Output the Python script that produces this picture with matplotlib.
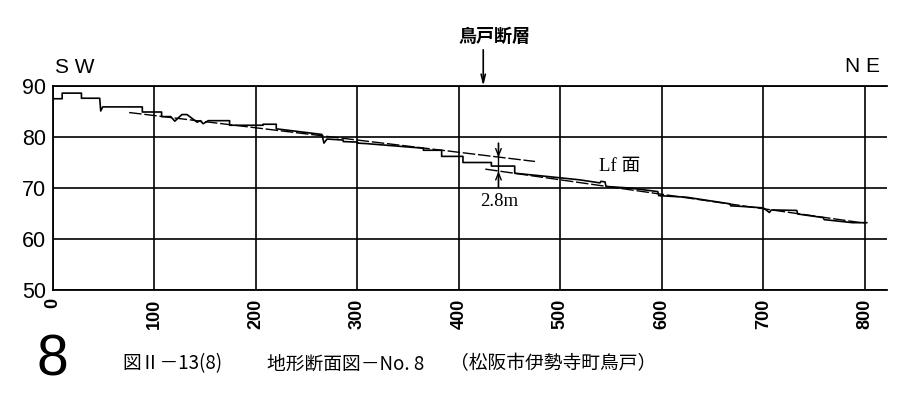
import matplotlib.pyplot as plt

plt.switch_backend('Agg')
plt.rcParams['font.family'] = ['Liberation Sans', 'Noto Sans CJK JP']

# ground profile (distance m, elevation m)
dist = [0, 9, 9, 28, 28, 46, 47, 49, 88, 88, 107, 107, 116, 120, 127, 132, 142,
        145, 148, 153, 174, 174, 207, 207, 220, 220, 265, 267, 270, 286, 286,
        300, 300, 309, 365, 365, 383, 383, 404, 404, 432, 432, 455, 455, 490,
        519, 539, 540, 544, 545, 568, 596, 597, 624, 667, 668, 678, 700, 706,
        708, 733, 734, 759, 760, 788, 802]
elev = [87.5, 87.5, 88.6, 88.6, 87.6, 87.6, 85.1, 85.9, 85.9, 84.9, 84.9, 84.0,
        84.0, 83.1, 84.4, 84.4, 82.9, 83.2, 82.6, 83.2, 83.2, 82.3, 82.3, 82.5,
        82.5, 81.6, 80.5, 78.8, 79.6, 79.4, 79.1, 79.0, 78.8, 78.7, 77.8, 77.4,
        77.4, 76.2, 76.2, 75.0, 75.0, 74.3, 74.3, 72.9, 72.2, 71.6, 71.0, 71.3,
        71.2, 70.3, 70.0, 69.3, 68.5, 68.2, 66.9, 66.5, 66.4, 66.1, 65.2, 65.7,
        65.6, 64.9, 64.2, 63.8, 63.2, 63.2]

# Lf surface trend lines (dashed), upper and lower side of the fault
upper_x = [75, 475]
upper_y = [84.8, 75.2]
lower_x = [426, 800]
lower_y = [73.7, 63.1]

fault_x = 424
offset_x = 439
x_ticks = [0, 100, 200, 300, 400, 500, 600, 700, 800]
y_ticks = [50, 60, 70, 80, 90]

fig = plt.figure(figsize=(9.05, 3.97), dpi=100)
ax = fig.add_axes([0.0586, 0.2695, 0.9216, 0.5139])
ax.set_xlim(0, 822)
ax.set_ylim(50, 90)

ax.set_xticks(x_ticks)
ax.set_yticks(y_ticks)
ax.set_xticklabels([str(t) for t in x_ticks], rotation=90, fontsize=13, fontweight='bold')
ax.set_yticklabels([str(t) for t in y_ticks], fontsize=15.5)
ax.tick_params(axis='both', length=0)
ax.tick_params(axis='x', pad=6)
ax.tick_params(axis='y', pad=5)
ax.grid(True, color='black', linewidth=1.2)
ax.set_axisbelow(True)
ax.spines['right'].set_visible(False)
for s in ['left', 'top', 'bottom']:
    ax.spines[s].set_linewidth(1.3)

ax.plot(dist, elev, color='black', linewidth=1.2)
ax.plot(upper_x, upper_y, color='black', linewidth=1.0, linestyle=(0, (9, 2)))
ax.plot(lower_x, lower_y, color='black', linewidth=1.0, linestyle=(0, (9, 2)))

# 2.8m offset marker
ax.plot([offset_x, offset_x], [78.8, 70.2], color='black', linewidth=1.0)
ax.annotate('', xy=(offset_x, 76.0), xytext=(offset_x, 78.8),
            arrowprops=dict(arrowstyle='->,head_length=0.5,head_width=0.2', lw=1.0,
                            color='black', shrinkA=0, shrinkB=0))
ax.annotate('', xy=(offset_x, 73.3), xytext=(offset_x, 70.2),
            arrowprops=dict(arrowstyle='->,head_length=0.5,head_width=0.2', lw=1.0,
                            color='black', shrinkA=0, shrinkB=0))
ax.text(440, 67.3, '2.8m', fontsize=13.5, family=['Liberation Serif'],
        ha='center', va='center')
ax.text(558, 74.3, 'Lf 面', fontsize=13.5, family=['Liberation Serif', 'Noto Sans CJK JP'],
        ha='center', va='center')

# fault arrow and label
ax.annotate('', xy=(fault_x, 90), xytext=(fault_x, 97.1), annotation_clip=False,
            arrowprops=dict(arrowstyle='->,head_length=0.6,head_width=0.15', lw=1.2,
                            color='black', shrinkA=0, shrinkB=0))
ax.text(435, 99.8, '鳥戸断層', fontsize=13, fontweight='bold', ha='center',
        va='center', clip_on=False, family=['Noto Sans CJK JP'])

ax.text(2, 92.5, 'S W', fontsize=15, ha='left', va='baseline', clip_on=False)
ax.text(815, 92.7, 'N E', fontsize=15, ha='right', va='baseline', clip_on=False)

# caption
cap_font = ['Noto Sans CJK JP']
fig.text(52 / 905, 1 - 360 / 397, '8', fontsize=41, ha='center', va='center')
fig.text(122 / 905, 1 - 364 / 397, '図Ⅱ－13(8)', fontsize=13.5, ha='left',
         va='center', family=cap_font)
fig.text(267 / 905, 1 - 364 / 397, '地形断面図－No. 8', fontsize=13.5, ha='left',
         va='center', family=cap_font)
fig.text(450 / 905, 1 - 364 / 397, '（松阪市伊勢寺町鳥戸）', fontsize=13.5, ha='left',
         va='center', family=cap_font)

fig.savefig('out.png', dpi=100)
